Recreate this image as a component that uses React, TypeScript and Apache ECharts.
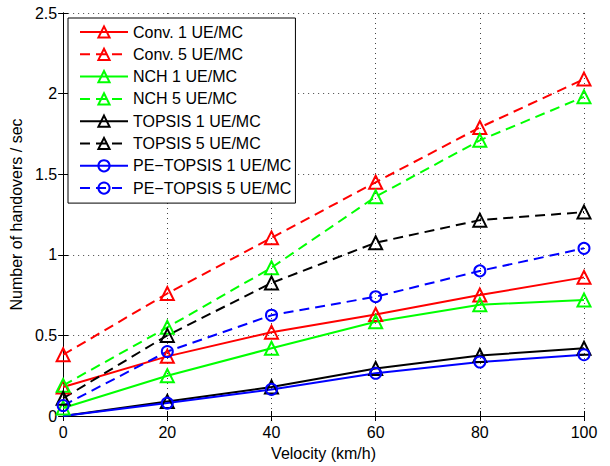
import React, { useEffect, useRef } from "react";
import * as echarts from "echarts";

const velocity = [0, 20, 40, 60, 80, 100];
const conv1 = [0.18, 0.37, 0.52, 0.63, 0.75, 0.86];
const conv5 = [0.38, 0.76, 1.105, 1.45, 1.79, 2.09];
const nch1 = [0.05, 0.25, 0.42, 0.585, 0.69, 0.72];
const nch5 = [0.19, 0.55, 0.92, 1.36, 1.71, 1.98];
const topsis1 = [0.0, 0.09, 0.18, 0.295, 0.375, 0.42];
const topsis5 = [0.11, 0.5, 0.825, 1.075, 1.215, 1.265];
const pe1 = [0.0, 0.08, 0.165, 0.265, 0.335, 0.38];
const pe5 = [0.065, 0.4, 0.625, 0.74, 0.9, 1.04];

const seriesDefs = [
  { name: "Conv. 1 UE/MC", data: conv1, color: "#ff0000", dashed: false, symbol: "triangle" },
  { name: "Conv. 5 UE/MC", data: conv5, color: "#ff0000", dashed: true, symbol: "triangle" },
  { name: "NCH 1 UE/MC", data: nch1, color: "#00ff00", dashed: false, symbol: "triangle" },
  { name: "NCH 5 UE/MC", data: nch5, color: "#00ff00", dashed: true, symbol: "triangle" },
  { name: "TOPSIS 1 UE/MC", data: topsis1, color: "#000000", dashed: false, symbol: "triangle" },
  { name: "TOPSIS 5 UE/MC", data: topsis5, color: "#000000", dashed: true, symbol: "triangle" },
  { name: "PE−TOPSIS 1 UE/MC", data: pe1, color: "#0000ff", dashed: false, symbol: "circle" },
  { name: "PE−TOPSIS 5 UE/MC", data: pe5, color: "#0000ff", dashed: true, symbol: "circle" },
];

const FONT = "Liberation Sans, Arial, sans-serif";

export default function App() {
  const ref = useRef<HTMLDivElement>(null);
  useEffect(() => {
    if (!ref.current) return;
    const chart = echarts.init(ref.current, null, { renderer: "svg" });
    const gridLine = { show: true, lineStyle: { color: "#444", type: [1, 4], width: 1 } };
    const axisLine = { show: true, lineStyle: { color: "#000", width: 1 } };
    const tick = { show: true, inside: true, length: 5, lineStyle: { color: "#000" } };
    chart.setOption({
      animation: false,
      textStyle: { fontFamily: FONT },
      grid: { left: 63, right: 26, top: 13, bottom: 43, containLabel: false },
      legend: {
        orient: "vertical",
        left: 68,
        top: 18,
        itemWidth: 48,
        itemHeight: 14,
        itemGap: 6.3,
        padding: [6, 4, 7, 11],
        backgroundColor: "#fff",
        borderColor: "#000",
        borderWidth: 1,
        borderRadius: 0,
        textStyle: { fontSize: 16, color: "#000", fontFamily: FONT },
        data: seriesDefs.map((s) => s.name),
      },
      xAxis: [
        {
          type: "value",
          min: 0,
          max: 100,
          interval: 20,
          name: "Velocity (km/h)",
          nameLocation: "middle",
          nameGap: 29,
          nameTextStyle: { fontSize: 16, color: "#000", fontFamily: FONT },
          axisLine,
          axisTick: tick,
          axisLabel: { fontSize: 16, color: "#000", margin: 8, fontFamily: FONT },
          splitLine: gridLine,
        },
        {
          type: "value",
          position: "top",
          min: 0,
          max: 100,
          interval: 20,
          axisLine,
          axisTick: tick,
          axisLabel: { show: false },
          splitLine: { show: false },
        },
      ],
      yAxis: [
        {
          type: "value",
          min: 0,
          max: 2.5,
          interval: 0.5,
          name: "Number of handovers / sec",
          nameLocation: "middle",
          nameGap: 27,
          nameTextStyle: { fontSize: 16, color: "#000", fontFamily: FONT },
          axisLine,
          axisTick: tick,
          axisLabel: { fontSize: 16, color: "#000", margin: 6, fontFamily: FONT },
          splitLine: gridLine,
        },
        {
          type: "value",
          position: "right",
          min: 0,
          max: 2.5,
          interval: 0.5,
          axisLine,
          axisTick: tick,
          axisLabel: { show: false },
          splitLine: { show: false },
        },
      ],
      series: seriesDefs.map((s) => ({
        name: s.name,
        type: "line",
        data: velocity.map((v, i) =>
          s.data[i] === 0 ? { value: [v, s.data[i]], symbolSize: 0 } : [v, s.data[i]]
        ),
        symbol: s.symbol,
        symbolSize: s.symbol === "triangle" ? 13 : 11,
        showAllSymbol: true,
        lineStyle: { color: s.color, width: 2, type: s.dashed ? [10, 6] : "solid" },
        itemStyle: { color: "rgba(255,255,255,0)", borderColor: s.color, borderWidth: 2 },
      })),
    });
    return () => chart.dispose();
  }, []);
  return (
    <div
      ref={ref}
      style={{ position: "absolute", left: 0, top: 0, width: 610, height: 466 }}
    />
  );
}
